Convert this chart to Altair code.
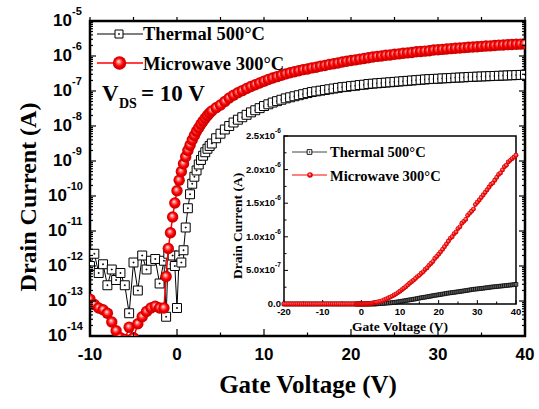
import altair as alt
import pandas as pd

# ---------------- data ----------------
# gate voltage sweep (V)
gate_v = [
    -10.0, -9.5, -9.0, -8.5, -8.0, -7.5, -7.0, -6.5, -6.0, -5.5, -5.0, -4.5, -4.0, -3.5, -3.0, -2.5, -2.0,
    -1.5, -1.25, -1.0, -0.75, -0.5, -0.25, 0.0, 0.25, 0.5, 0.75, 1.0, 1.25, 1.5, 1.75, 2.0,
    2.25, 2.5, 2.75, 3.0, 3.25, 3.5, 3.75, 4.0,
    4.5, 5.0, 5.5, 6.0, 6.5, 7.0, 7.5, 8.0, 8.5, 9.0, 9.5, 10.0,
    10.5, 11.0, 11.5, 12.0, 12.5, 13.0, 13.5, 14.0, 14.5, 15.0, 15.5, 16.0, 16.5, 17.0, 17.5, 18.0, 18.5, 19.0, 19.5, 20.0,
    20.5, 21.0, 21.5, 22.0, 22.5, 23.0, 23.5, 24.0, 24.5, 25.0, 25.5, 26.0, 26.5, 27.0, 27.5, 28.0, 28.5, 29.0, 29.5, 30.0,
    30.5, 31.0, 31.5, 32.0, 32.5, 33.0, 33.5, 34.0, 34.5, 35.0, 35.5, 36.0, 36.5, 37.0, 37.5, 38.0, 38.5, 39.0, 39.5, 40.0,
]
# log10 of drain current (A)
thermal_log = [
    -12.0, -11.65, -12.2, -11.95, -12.55, -12.1, -12.4, -12.2, -12.55, -13.35, -11.9, -12.7, -11.7, -12.1, -11.85, -11.8, -12.5,
    -11.85, -13.45, -11.65, -11.95, -11.7, -12.0, -13.2, -11.7, -11.9, -11.55, -10.9, -10.35, -9.95, -9.65, -9.45,
    -9.27, -9.1, -8.97, -8.85, -8.75, -8.65, -8.57, -8.5,
    -8.35, -8.22, -8.10, -8.00, -7.90, -7.82, -7.75, -7.68, -7.61, -7.55, -7.49, -7.43,
    -7.38, -7.33, -7.29, -7.25, -7.21, -7.18, -7.15, -7.12, -7.09, -7.06, -7.03, -7.01, -6.99, -6.97, -6.95, -6.93, -6.91, -6.89, -6.88, -6.86,
    -6.85, -6.83, -6.82, -6.80, -6.79, -6.78, -6.77, -6.76, -6.75, -6.74, -6.73, -6.72, -6.71, -6.70, -6.69, -6.68, -6.67, -6.66, -6.655, -6.65,
    -6.64, -6.635, -6.63, -6.62, -6.615, -6.61, -6.60, -6.595, -6.59, -6.585, -6.58, -6.575, -6.57, -6.565, -6.56, -6.555, -6.55, -6.545, -6.54, -6.535,
]
microwave_log = [
    -12.95, -13.1, -13.2, -13.25, -13.35, -13.6, -13.85, -14.05, -14.1, -13.75, -14.05, -13.65, -13.45, -13.3, -13.2, -13.15, -13.2,
    -13.2, -12.3, -11.5, -11.05, -10.6, -10.2, -9.85, -9.55, -9.3, -9.08, -8.88, -8.7, -8.55, -8.4, -8.27,
    -8.15, -8.05, -7.95, -7.86, -7.78, -7.7, -7.63, -7.57,
    -7.48, -7.40, -7.30, -7.20, -7.12, -7.05, -6.99, -6.93, -6.87, -6.82, -6.77, -6.72,
    -6.67, -6.63, -6.59, -6.55, -6.51, -6.48, -6.45, -6.42, -6.39, -6.37, -6.34, -6.32, -6.29, -6.27, -6.24, -6.22, -6.20, -6.17, -6.15, -6.13,
    -6.11, -6.09, -6.07, -6.05, -6.03, -6.01, -6.00, -5.98, -5.97, -5.95, -5.94, -5.92, -5.91, -5.90, -5.88, -5.87, -5.86, -5.85, -5.83, -5.82,
    -5.81, -5.80, -5.79, -5.78, -5.77, -5.76, -5.75, -5.745, -5.735, -5.725, -5.715, -5.71, -5.70, -5.69, -5.685, -5.675, -5.67, -5.665, -5.66, -5.655,
]
# sweep points seen only in the inset (-20 .. -10.5 V), off-state
inset_pre_v = [-20.0, -19.5, -19.0, -18.5, -18.0, -17.5, -17.0, -16.5, -16.0, -15.5,
               -15.0, -14.5, -14.0, -13.5, -13.0, -12.5, -12.0, -11.5, -11.0, -10.5]
inset_pre_thermal_log = [-12.1, -11.8, -12.3, -12.0, -11.9, -12.4, -12.0, -11.7, -12.2, -12.1,
                         -11.9, -12.3, -12.0, -11.8, -12.5, -12.1, -11.9, -12.2, -12.0, -11.8]
inset_pre_microwave_log = [-13.0, -12.9, -13.1, -13.0, -12.9, -13.2, -13.0, -12.9, -13.1, -13.0,
                           -12.9, -13.1, -13.0, -12.9, -13.0, -13.1, -12.9, -13.0, -13.0, -12.9]

assert len(gate_v) == len(thermal_log) == len(microwave_log)

series_names = ["Thermal 500°C", "Microwave 300°C"]

main_x_ticks = [-10, 0, 10, 20, 30, 40]
main_x_tick_labels = ["-10", "0", "10", "20", "30", "40"]
main_x_minor = [-5, 5, 15, 25, 35]
main_y_exponents = [-5, -6, -7, -8, -9, -10, -11, -12, -13, -14]

inset_x_ticks = [-20, -10, 0, 10, 20, 30, 40]
inset_x_tick_labels = ["-20", "-10", "0", "10", "20", "30", "40"]
inset_x_minor = [-15, -5, 5, 15, 25, 35]
inset_y_ticks = [5.0e-7, 1.0e-6, 1.5e-6, 2.0e-6, 2.5e-6]
inset_y_mantissas = ["5.0x10", "1.0x10", "1.5x10", "2.0x10", "2.5x10"]
inset_y_exponents = ["-7", "-6", "-6", "-6", "-6"]
inset_y_zero_label = "0.0"
inset_y_minor = [2.5e-7, 7.5e-7, 1.25e-6, 1.75e-6, 2.25e-6]

# ---------------- layout constants (pixels, relative to plot area) ----------------
W, H = 435, 315
IX0, IX1 = 194, 426   # inset left / right
IY0, IY1 = 283, 115   # inset bottom (0) / top (2.5e-6)

SERIF = "Liberation Serif"
SANS = "Liberation Sans"
RED = "#ff0000"

BALL = {
    "gradient": "radial",
    "x1": 0.42, "y1": 0.36, "r1": 0.0,
    "x2": 0.5, "y2": 0.5, "r2": 0.5,
    "stops": [
        {"offset": 0.0, "color": "#ffffff"},
        {"offset": 0.3, "color": "#ff7070"},
        {"offset": 0.6, "color": "#ff0000"},
        {"offset": 1.0, "color": "#c00000"},
    ],
}
SQUARE_DOT = "M-1,-1L1,-1L1,1L-1,1Z M-0.1,-0.1L0.1,-0.1L0.1,0.1L-0.1,0.1Z"

# ---------------- frames ----------------
main_df = pd.DataFrame({
    "V": gate_v,
    "thermal": [10.0 ** v for v in thermal_log],
    "microwave": [10.0 ** v for v in microwave_log],
})
inset_df = pd.DataFrame({
    "V": inset_pre_v + gate_v,
    "thermal": [10.0 ** v for v in inset_pre_thermal_log + thermal_log],
    "microwave": [10.0 ** v for v in inset_pre_microwave_log + microwave_log],
})
ONE = pd.DataFrame({"k": [0]})

XS = alt.Scale(domain=[-10, 40], nice=False, zero=False)
YS = alt.Scale(type="log", domain=[1e-14, 1e-5], nice=False)
IXS = alt.Scale(domain=[-20, 40], range=[IX0, IX1], nice=False, zero=False)
IYS = alt.Scale(domain=[0, 2.5e-6], range=[IY0, IY1], nice=False, zero=False)


def mx(f):
    return alt.X(f"{f}:Q", scale=XS, axis=None)


def my(f):
    return alt.Y(f"{f}:Q", scale=YS, axis=None)


def ix(f):
    return alt.X(f"{f}:Q", scale=IXS, axis=None)


def iy(f):
    return alt.Y(f"{f}:Q", scale=IYS, axis=None)


def label(text, x, y, size, font=SERIF, align="left", baseline="alphabetic", angle=0):
    return alt.Chart(ONE).mark_text(
        text=text, align=align, baseline=baseline, font=font, fontSize=size,
        fontWeight="bold", angle=angle, color="black",
    ).encode(x=alt.value(x), y=alt.value(y))


# ---------------- main plot ----------------
main_layers = []

main_layers.append(alt.Chart(main_df).mark_line(color="black", strokeWidth=1, clip=True)
                   .encode(x=mx("V"), y=my("thermal")))
main_layers.append(alt.Chart(main_df).mark_point(shape=SQUARE_DOT, size=80, filled=True, fill="white",
                                                 stroke="black", strokeWidth=1, opacity=1, clip=True)
                   .encode(x=mx("V"), y=my("thermal")))
main_layers.append(alt.Chart(main_df).mark_line(color=RED, strokeWidth=1.5, clip=True)
                   .encode(x=mx("V"), y=my("microwave")))
main_layers.append(alt.Chart(main_df).mark_point(shape="circle", size=130, filled=True, fill=BALL,
                                                 opacity=1, clip=True)
                   .encode(x=mx("V"), y=my("microwave")))

# ticks
major_y = [10.0 ** e for e in main_y_exponents]
minor_y = [m * 10.0 ** e for e in range(-14, -5) for m in range(2, 10)]


def hticks(values, x0, x1):
    return alt.Chart(pd.DataFrame({"v": values})).mark_rule(color="black", strokeWidth=1.2).encode(
        y=my("v"), x=alt.value(x0), x2=alt.value(x1))


def vticks(values, y0, y1):
    return alt.Chart(pd.DataFrame({"v": values})).mark_rule(color="black", strokeWidth=1.2).encode(
        x=mx("v"), y=alt.value(y0), y2=alt.value(y1))


main_layers += [
    hticks(major_y, 0, 6), hticks(minor_y, 0, 3),
    hticks(major_y, W, W - 6), hticks(minor_y, W, W - 3),
    vticks(main_x_ticks, H, H - 7), vticks(main_x_minor, H, H - 3.5),
    vticks(main_x_ticks + main_x_minor, 0, -4),
]

# tick labels
xl = pd.DataFrame({"v": main_x_ticks, "t": main_x_tick_labels})
main_layers.append(alt.Chart(xl).mark_text(align="center", baseline="alphabetic", font=SANS,
                                           fontWeight="bold", fontSize=17, color="black")
                   .encode(x=mx("v"), y=alt.value(339), text="t:N"))

for exps, xr in (([e for e in main_y_exponents if e > -10], -18),
                 ([e for e in main_y_exponents if e <= -10], -23)):
    d = pd.DataFrame({"v": [10.0 ** e for e in exps], "e": [str(e) for e in exps]})
    main_layers.append(alt.Chart(d).mark_text(text="10", align="right", baseline="middle", font=SANS,
                                              fontWeight="bold", fontSize=17, color="black")
                       .encode(y=my("v"), x=alt.value(xr)))
    main_layers.append(alt.Chart(d).mark_text(align="left", baseline="middle", dy=-9, font=SANS,
                                              fontWeight="bold", fontSize=11, color="black")
                       .encode(y=my("v"), x=alt.value(xr), text="e:N"))

# titles
main_layers.append(label("Drain Current (A)", -61, 176, 24, align="center", baseline="middle", angle=270))
main_layers.append(label("Gate Voltage (V)", 218, 372, 25, align="center"))

# legend
main_layers.append(alt.Chart(ONE).mark_rule(color="black", strokeWidth=1)
                   .encode(x=alt.value(7), x2=alt.value(53), y=alt.value(13)))
main_layers.append(alt.Chart(ONE).mark_point(shape=SQUARE_DOT, size=64, filled=True, fill="white",
                                             stroke="black", strokeWidth=1, opacity=1)
                   .encode(x=alt.value(29), y=alt.value(13)))
main_layers.append(alt.Chart(ONE).mark_rule(color=RED, strokeWidth=1.5)
                   .encode(x=alt.value(7), x2=alt.value(53), y=alt.value(42)))
main_layers.append(alt.Chart(ONE).mark_point(shape="circle", size=180, filled=True, fill=BALL, opacity=1)
                   .encode(x=alt.value(29.5), y=alt.value(42)))
main_layers.append(label(series_names[0], 53, 19, 18.5))
main_layers.append(label(series_names[1], 53, 49, 18.5))

# V_DS annotation
main_layers.append(label("V", 12, 80, 23))
main_layers.append(label("DS", 29, 87, 14))
main_layers.append(label("= 10 V", 51, 80, 23))

main = alt.layer(*main_layers)

# ---------------- inset ----------------
inset_layers = []
frame = pd.DataFrame({"x0": [-20], "x1": [40], "y0": [0.0], "y1": [2.5e-6]})
inset_layers.append(alt.Chart(frame).mark_rect(fill="white", stroke="black", strokeWidth=1.5)
                    .encode(x=ix("x0"), x2="x1:Q", y=iy("y0"), y2="y1:Q"))


def ihticks(values, x0, x1):
    return alt.Chart(pd.DataFrame({"v": values})).mark_rule(color="black", strokeWidth=1).encode(
        y=iy("v"), x=alt.value(x0), x2=alt.value(x1))


def ivticks(values, y0, y1):
    return alt.Chart(pd.DataFrame({"v": values})).mark_rule(color="black", strokeWidth=1).encode(
        x=ix("v"), y=alt.value(y0), y2=alt.value(y1))


inset_layers += [
    ihticks(inset_y_ticks, IX0, IX0 + 4), ihticks(inset_y_minor, IX0, IX0 + 2.5),
    ivticks(inset_x_ticks, IY0, IY0 - 4), ivticks(inset_x_minor, IY0, IY0 - 2.5),
]

inset_layers.append(alt.Chart(inset_df).mark_line(color="#333333", strokeWidth=1)
                    .encode(x=ix("V"), y=iy("thermal")))
inset_layers.append(alt.Chart(inset_df).mark_point(shape="square", size=14, filled=True, fill="#666666",
                                                   stroke="black", strokeWidth=0.7, opacity=1)
                    .encode(x=ix("V"), y=iy("thermal")))
inset_layers.append(alt.Chart(inset_df).mark_line(color=RED, strokeWidth=1)
                    .encode(x=ix("V"), y=iy("microwave")))
inset_layers.append(alt.Chart(inset_df).mark_point(shape="circle", size=24, filled=True, fill=BALL, opacity=1)
                    .encode(x=ix("V"), y=iy("microwave")))

# inset tick labels
ixl = pd.DataFrame({"v": inset_x_ticks, "t": inset_x_tick_labels})
inset_layers.append(alt.Chart(ixl).mark_text(align="center", baseline="alphabetic", font=SANS,
                                             fontWeight="bold", fontSize=9.5, color="black")
                    .encode(x=ix("v"), y=alt.value(IY0 + 11), text="t:N"))
iyl = pd.DataFrame({"v": inset_y_ticks, "m": inset_y_mantissas, "e": inset_y_exponents})
inset_layers.append(alt.Chart(iyl).mark_text(align="right", baseline="middle", font=SANS,
                                             fontWeight="bold", fontSize=9.5, color="black")
                    .encode(y=iy("v"), x=alt.value(IX0 - 9), text="m:N"))
inset_layers.append(alt.Chart(iyl).mark_text(align="left", baseline="middle", dy=-5, font=SANS,
                                             fontWeight="bold", fontSize=6.5, color="black")
                    .encode(y=iy("v"), x=alt.value(IX0 - 9), text="e:N"))
izl = pd.DataFrame({"v": [0.0], "m": [inset_y_zero_label]})
inset_layers.append(alt.Chart(izl).mark_text(align="right", baseline="middle", font=SANS,
                                             fontWeight="bold", fontSize=9.5, color="black")
                    .encode(y=iy("v"), x=alt.value(IX0 - 3), text="m:N"))

# inset titles
inset_layers.append(label("Drain Current (A)", 148, 205, 13.5, align="center", baseline="middle", angle=270))
inset_layers.append(label("Gate Voltage (V)", 310, 310, 13.5, align="center"))

# inset legend
inset_layers.append(alt.Chart(ONE).mark_rule(color="#444444", strokeWidth=1)
                    .encode(x=alt.value(202), x2=alt.value(237), y=alt.value(131)))
inset_layers.append(alt.Chart(ONE).mark_point(shape=SQUARE_DOT, size=22, filled=True, fill="white",
                                              stroke="black", strokeWidth=0.9, opacity=1)
                    .encode(x=alt.value(219.5), y=alt.value(131)))
inset_layers.append(alt.Chart(ONE).mark_rule(color=RED, strokeWidth=1)
                    .encode(x=alt.value(202), x2=alt.value(237), y=alt.value(154)))
inset_layers.append(alt.Chart(ONE).mark_point(shape="circle", size=30, filled=True, fill=BALL, opacity=1)
                    .encode(x=alt.value(220), y=alt.value(154)))
inset_layers.append(label(series_names[0], 240, 136, 14.5))
inset_layers.append(label(series_names[1], 240, 160, 14.5))

inset = alt.layer(*inset_layers)

chart = alt.layer(main, inset).resolve_scale(x="independent", y="independent").properties(
    width=W, height=H,
    padding={"left": 90, "top": 21, "right": 14, "bottom": 73},
    autosize=alt.AutoSizeParams(type="none"),
    background="white",
).configure_view(stroke="black", strokeWidth=2.5)

chart.save("out.html", embed_options={"renderer": "svg", "actions": False})
